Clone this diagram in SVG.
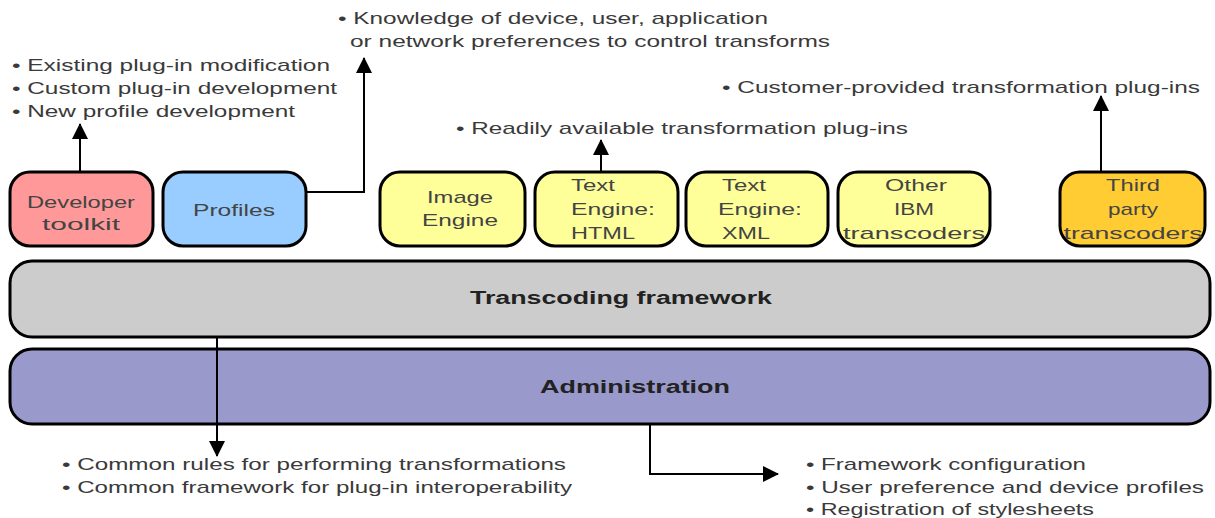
<svg xmlns="http://www.w3.org/2000/svg" width="1215" height="518" viewBox="0 0 1215 518">
  <defs>
    <marker id="arrow" markerWidth="16" markerHeight="16" refX="15" refY="8" orient="auto" markerUnits="userSpaceOnUse">
      <path d="M0,0 L16,8 L0,16 Z" fill="#000"/>
    </marker>
  </defs>
  <style>
    .box { stroke: #000; stroke-width: 3; }
    .lbl { font-family: "Liberation Sans", Arial, sans-serif; font-size: 17px; fill: #444; }
    .mid { text-anchor: middle; }
    .bar { font-family: "Liberation Sans", Arial, sans-serif; font-size: 18px; font-weight: bold; fill: #222; text-anchor: middle; }
    .note { font-family: "Liberation Sans", Arial, sans-serif; font-size: 17px; fill: #3a3a3a; }
    .conn { fill: none; stroke: #000; stroke-width: 2; }
  </style>
  <rect width="1215" height="518" fill="#fff"/>

  <!-- component nodes -->
  <g id="developer-toolkit">
    <rect class="box" x="10" y="172" width="143" height="74" rx="20" fill="#FF9999"/>
    <text class="lbl mid" x="81" y="208" textLength="108" lengthAdjust="spacingAndGlyphs">Developer</text>
    <text class="lbl mid" x="81" y="230" textLength="78" lengthAdjust="spacingAndGlyphs">toolkit</text>
  </g>
  <g id="profiles">
    <rect class="box" x="163" y="172" width="143" height="74" rx="20" fill="#99CCFF"/>
    <text class="lbl mid" x="234" y="216" textLength="82" lengthAdjust="spacingAndGlyphs">Profiles</text>
  </g>
  <g id="image-engine">
    <rect class="box" x="380" y="172" width="145" height="74" rx="20" fill="#FFFF99"/>
    <text class="lbl mid" x="460" y="203" textLength="66" lengthAdjust="spacingAndGlyphs">Image</text>
    <text class="lbl mid" x="460" y="226" textLength="76" lengthAdjust="spacingAndGlyphs">Engine</text>
  </g>
  <g id="text-engine-html">
    <rect class="box" x="535" y="172" width="143" height="74" rx="20" fill="#FFFF99"/>
    <text class="lbl" x="571" y="191" textLength="44" lengthAdjust="spacingAndGlyphs">Text</text>
    <text class="lbl" x="571" y="215" textLength="84" lengthAdjust="spacingAndGlyphs">Engine:</text>
    <text class="lbl" x="571" y="239" textLength="64" lengthAdjust="spacingAndGlyphs">HTML</text>
  </g>
  <g id="text-engine-xml">
    <rect class="box" x="686" y="172" width="142" height="74" rx="20" fill="#FFFF99"/>
    <text class="lbl" x="722" y="191" textLength="44" lengthAdjust="spacingAndGlyphs">Text</text>
    <text class="lbl" x="718" y="215" textLength="84" lengthAdjust="spacingAndGlyphs">Engine:</text>
    <text class="lbl" x="722" y="239" textLength="48" lengthAdjust="spacingAndGlyphs">XML</text>
  </g>
  <g id="other-ibm-transcoders">
    <rect class="box" x="838" y="172" width="152" height="74" rx="20" fill="#FFFF99"/>
    <text class="lbl mid" x="916" y="191" textLength="62" lengthAdjust="spacingAndGlyphs">Other</text>
    <text class="lbl mid" x="914" y="215" textLength="40" lengthAdjust="spacingAndGlyphs">IBM</text>
    <text class="lbl mid" x="914" y="239" textLength="142" lengthAdjust="spacingAndGlyphs">transcoders</text>
  </g>
  <g id="third-party-transcoders">
    <rect class="box" x="1060" y="172" width="145" height="74" rx="20" fill="#FFCC33"/>
    <text class="lbl mid" x="1133" y="191" textLength="54" lengthAdjust="spacingAndGlyphs">Third</text>
    <text class="lbl mid" x="1133" y="215" textLength="50" lengthAdjust="spacingAndGlyphs">party</text>
    <text class="lbl mid" x="1133" y="239" textLength="139" lengthAdjust="spacingAndGlyphs">transcoders</text>
  </g>

  <!-- layered bars -->
  <g id="transcoding-framework">
    <rect class="box" x="10" y="261" width="1200" height="76" rx="22" fill="#CCCCCC"/>
    <text class="bar" x="621" y="304" textLength="302" lengthAdjust="spacingAndGlyphs">Transcoding framework</text>
  </g>
  <g id="administration">
    <rect class="box" x="10" y="349" width="1200" height="75" rx="22" fill="#9999CC"/>
    <text class="bar" x="635" y="393" textLength="190" lengthAdjust="spacingAndGlyphs">Administration</text>
  </g>

  <!-- connectors -->
  <g id="connectors">
    <path class="conn" d="M80,172 V124" marker-end="url(#arrow)"/>
    <path class="conn" d="M306,192 H364 V58" marker-end="url(#arrow)"/>
    <path class="conn" d="M601,172 V140" marker-end="url(#arrow)"/>
    <path class="conn" d="M1101,172 V96" marker-end="url(#arrow)"/>
    <path class="conn" d="M217,337 V456" marker-end="url(#arrow)"/>
    <path class="conn" d="M650,424 V474 H778" marker-end="url(#arrow)"/>
  </g>

  <!-- annotations -->
  <g id="notes">
    <text class="note" x="338" y="24" textLength="430" lengthAdjust="spacingAndGlyphs">• Knowledge of device, user, application</text>
    <text class="note" x="350" y="47" textLength="480" lengthAdjust="spacingAndGlyphs">or network preferences to control transforms</text>
    <text class="note" x="12" y="71" textLength="318" lengthAdjust="spacingAndGlyphs">• Existing plug-in modification</text>
    <text class="note" x="12" y="94" textLength="325" lengthAdjust="spacingAndGlyphs">• Custom plug-in development</text>
    <text class="note" x="12" y="117" textLength="283" lengthAdjust="spacingAndGlyphs">• New profile development</text>
    <text class="note" x="722" y="93" textLength="478" lengthAdjust="spacingAndGlyphs">• Customer-provided transformation plug-ins</text>
    <text class="note" x="456" y="134" textLength="452" lengthAdjust="spacingAndGlyphs">• Readily available transformation plug-ins</text>
    <text class="note" x="62" y="470" textLength="504" lengthAdjust="spacingAndGlyphs">• Common rules for performing transformations</text>
    <text class="note" x="62" y="493" textLength="510" lengthAdjust="spacingAndGlyphs">• Common framework for plug-in interoperability</text>
    <text class="note" x="806" y="470" textLength="280" lengthAdjust="spacingAndGlyphs">• Framework configuration</text>
    <text class="note" x="806" y="493" textLength="398" lengthAdjust="spacingAndGlyphs">• User preference and device profiles</text>
    <text class="note" x="806" y="515" textLength="288" lengthAdjust="spacingAndGlyphs">• Registration of stylesheets</text>
  </g>
</svg>
